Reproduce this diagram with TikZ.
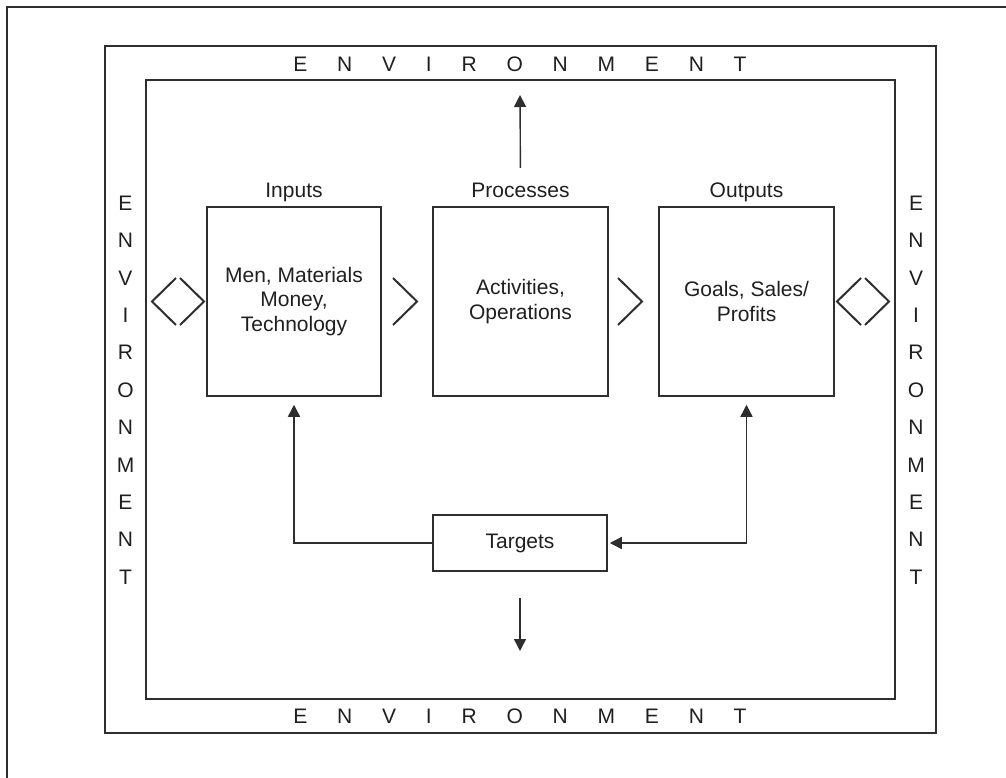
\documentclass[tikz,border=0pt]{standalone}
\usepackage{fontspec}
\setmainfont{Liberation Sans}
\usetikzlibrary{arrows.meta}
\newcommand\lab{\fontsize{21}{24.5}\selectfont}
\newcommand\envgap{\hspace{29.8pt}}
\newcommand\envword{E\envgap N\envgap V\envgap I\envgap R\envgap O\envgap N\envgap M\envgap E\envgap N\envgap T}
\begin{document}
\begin{tikzpicture}[x=1pt,y=-1pt,
  ink/.style={draw=black!82},
  frame/.style={ink, line width=1.7pt},
  box/.style={ink, line width=1.5pt, inner sep=0pt, align=center, font=\lab, text=black!88},
  lbl/.style={inner sep=0pt, anchor=base, font=\lab, text=black!88},
  env/.style={inner sep=0pt, font=\lab, text=black!88},
  chev/.style={ink, line width=2pt, line cap=butt, line join=miter},
  conn/.style={ink, line width=1.4pt},
  tip/.style={-{Triangle[length=12pt,width=12pt]}}
]
\useasboundingbox (0,0) rectangle (1006,778);
% outer open frame
\coordinate (fA) at (7,778);
\coordinate (fB) at (7,7);
\coordinate (fC) at (1006,7);
\draw[frame] (fA) -- (fB) -- (fC);
% environment frame and system box
\draw[frame] (105,46) rectangle (936,733);
\draw[frame] (146,80) rectangle (895,699);
% environment words
\node[env] (envT) at (520,64) {\envword};
\node[env] (envB) at (520,716) {\envword};
\foreach \c [count=\i from 0] in {E,N,V,I,R,O,N,M,E,N,T}{
  \node[env] (envL\i) at (125.5,203+37.4*\i) {\c};
  \node[env] (envR\i) at (916,203+37.4*\i) {\c};
}
% main boxes
\node[box, minimum width=174pt, minimum height=189pt] (in) at (294,301.5)
  {Men, Materials\\Money,\\Technology};
\node[box, minimum width=175pt, minimum height=189pt] (pc) at (520.5,301.5)
  {Activities,\\Operations};
\node[box, minimum width=175pt, minimum height=189pt] (out) at (746.5,301.5)
  {Goals, Sales/\\Profits};
\node[box, minimum width=174pt, minimum height=56pt] (tg) at (520,543) {Targets};
% labels
\node[lbl] (inL) at (294,197) {Inputs};
\node[lbl] (pcL) at (520.5,197) {Processes};
\node[lbl] (outL) at (746.5,197) {Outputs};
% chevrons / diamonds
\draw[chev] (176,278) -- (152,301.5) -- (176,325);
\draw[chev] (180,278) -- (204,301.5) -- (180,325);
\draw[chev] (393,278) -- (417,301.5) -- (393,325);
\draw[chev] (618,278) -- (642,301.5) -- (618,325);
\draw[chev] (861,278) -- (837,301.5) -- (861,325);
\draw[chev] (865,278) -- (889,301.5) -- (865,325);
% connectors
\coordinate (upEnd) at (520,95);
\coordinate (dnEnd) at (520,651);
\draw[conn, tip, shorten <=14.5pt] (pcL.north) -- (upEnd);
\draw[conn, tip, shorten <=26pt] (tg.south) -- (dnEnd);
\draw[conn, tip, shorten >=8pt] (tg.west) -| (in.south);
\draw[conn, {Triangle[length=12pt,width=12pt]}-{Triangle[length=12pt,width=12pt]}, shorten >=8pt, shorten <=2pt] (tg.east) -| (out.south);
\end{tikzpicture}
\end{document}
